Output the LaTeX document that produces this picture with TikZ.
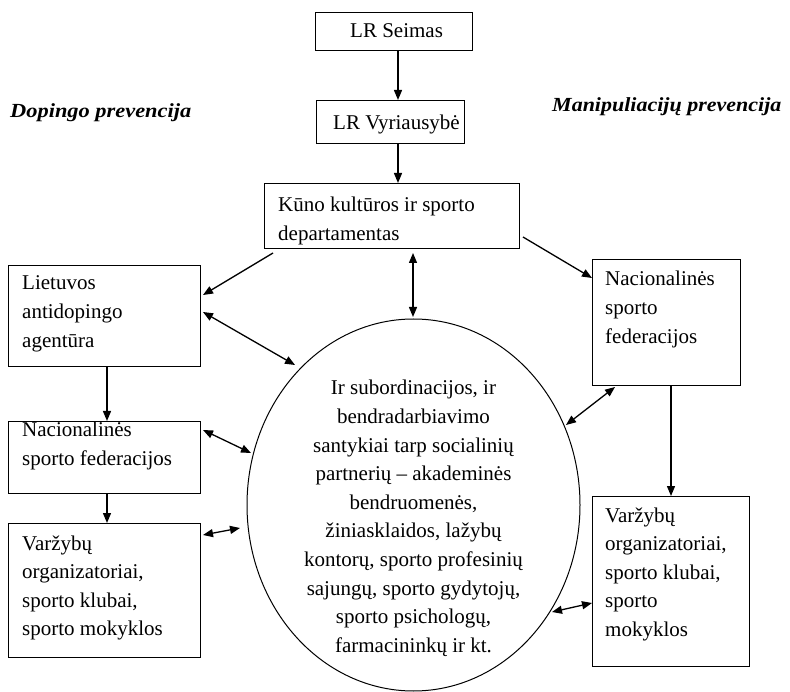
\documentclass[tikz,border=0pt]{standalone}
\usepackage{fontspec}
\usepackage{graphicx}
\setmainfont{Liberation Serif}
\usetikzlibrary{shapes.geometric,arrows.meta,calc}
\tikzset{
  box/.style={draw, line width=1pt, rectangle, inner sep=0pt, anchor=north west},
  txt/.style={inner sep=0pt, anchor=base west, font=\fontsize{21}{28.6}\selectfont},
  hdr/.style={inner sep=0pt, anchor=base west, font=\fontsize{20}{24}\selectfont\bfseries\itshape},
  arr/.style={line width=1.3pt, -{Triangle[length=10pt,width=8pt]}},
  darr/.style={line width=1.3pt, {Triangle[length=10pt,width=8pt]}-{Triangle[length=10pt,width=8pt]}}
}
\begin{document}
\begin{tikzpicture}[x=1pt,y=-1pt]
\useasboundingbox (0,0) rectangle (790,692);
% boxes
\node[box, minimum width=157pt, minimum height=38pt] (seimas) at (315,12) {};
\node[box, minimum width=148pt, minimum height=43pt] (vyr) at (316,100) {};
\node[box, minimum width=255pt, minimum height=65pt] (kuno) at (264,183) {};
\node[box, minimum width=192pt, minimum height=101pt] (lad) at (8,265) {};
\node[box, minimum width=192pt, minimum height=72pt] (nacL) at (8,421) {};
\node[box, minimum width=192pt, minimum height=134pt] (varL) at (8,523) {};
\node[box, minimum width=148pt, minimum height=126pt] (nsfR) at (592,259) {};
\node[box, minimum width=157pt, minimum height=170pt] (varR) at (592,496) {};
\node[draw, line width=1pt, ellipse, minimum width=333pt, minimum height=372pt, inner sep=0pt] (ell) at (413.5,505) {};
% texts
\node[txt] (seimasT) at (350,38) {LR Seimas};
\node[txt] (vyrT) at (333,130) {LR Vyriausybė};
\node[txt] (kunoT) at (278,212) {\parbox[t]{235pt}{\raggedright Kūno kultūros ir sporto\\departamentas}};
\node[txt] (ladT) at (22,290) {\parbox[t]{175pt}{\raggedright Lietuvos\\antidopingo\\agentūra}};
\node[txt] (nacLT) at (22,437) {\parbox[t]{175pt}{\raggedright Nacionalinės\\sporto federacijos}};
\node[txt] (varLT) at (22,550) {\parbox[t]{175pt}{\raggedright Varžybų\\organizatoriai,\\sporto klubai,\\sporto mokyklos}};
\node[txt] (nsfRT) at (605,286) {\parbox[t]{130pt}{\raggedright Nacionalinės\\sporto\\federacijos}};
\node[txt] (varRT) at (605,522) {\parbox[t]{140pt}{\raggedright Varžybų\\organizatoriai,\\sporto klubai,\\sporto\\mokyklos}};
\node[txt, anchor=base] (ellT) at (413.5,395) {\parbox[t]{300pt}{\centering Ir subordinacijos, ir\\bendradarbiavimo\\santykiai tarp socialinių\\partnerių – akademinės\\bendruomenės,\\žiniasklaidos, lažybų\\kontorų, sporto profesinių\\sajungų, sporto gydytojų,\\sporto psichologų,\\farmacininkų ir kt.}};
\node[hdr] (dop) at (10,118) {\scalebox{1.12}[1]{Dopingo prevencija}};
\node[hdr] (man) at (552,112) {\scalebox{1.1}[1]{Manipuliacijų prevencija}};
% connectors
\draw[arr] ($(seimas.south west)+(83,0)$) -- ($(vyr.north west)+(82,0)$);
\draw[arr] ($(vyr.south west)+(82,0)$) -- ($(kuno.north west)+(134,0)$);
\draw[arr] ($(kuno.south west)+(9,4)$) -- ($(lad.north east)+(2,30)$);
\draw[darr] ($(lad.north east)+(2,47)$) -- ($(ell.center)+(-118.5,-140)$);
\draw[arr] ($(lad.south west)+(99,0)$) -- ($(nacL.north west)+(99,0)$);
\draw[darr] ($(nacL.north east)+(2,9)$) -- ($(ell.center)+(-162.5,-52)$);
\draw[arr] ($(nacL.south west)+(99,0)$) -- ($(varL.north west)+(99,0)$);
\draw[darr] ($(varL.north east)+(2,12)$) -- ($(ell.center)+(-173.5,23)$);
\draw[darr] ($(kuno.south west)+(149,4)$) -- ($(ell.center)+(-0.5,-188)$);
\draw[arr] ($(kuno.south east)+(3,-12)$) -- ($(nsfR.north west)+(0,19)$);
\draw[darr] ($(nsfR.south west)+(23,1)$) -- ($(ell.center)+(152.5,-80)$);
\draw[arr] ($(nsfR.south west)+(79,0)$) -- ($(varR.north west)+(79,0)$);
\draw[darr] ($(varR.north west)+(0,107)$) -- ($(ell.center)+(138.5,107)$);
\end{tikzpicture}
\end{document}
